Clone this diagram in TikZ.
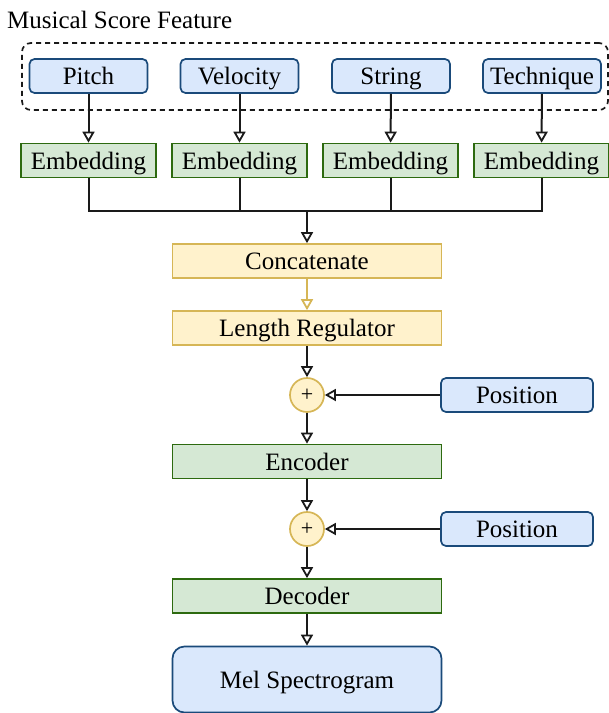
\documentclass[tikz,border=0pt]{standalone}
\usepackage{fontspec}
\setmainfont{Liberation Serif}
\usetikzlibrary{arrows.meta}
\definecolor{bfill}{HTML}{DAE8FC}
\definecolor{bline}{HTML}{1A4A7A}
\definecolor{gfill}{HTML}{D5E8D4}
\definecolor{gline}{HTML}{2D6A0F}
\definecolor{yfill}{HTML}{FFF2CC}
\definecolor{yline}{HTML}{D6B656}
\definecolor{ink}{HTML}{1A1A1A}
\tikzset{
  base/.style={inner sep=0pt, font=\fontsize{25}{30}\selectfont, text height=22pt, text depth=5pt, line width=1.7pt},
  bluebox/.style={base, draw=bline, fill=bfill, rounded corners=5pt, minimum width=118pt, minimum height=34pt},
  posbox/.style={bluebox, minimum width=152pt},
  embbox/.style={base, draw=gline, fill=gfill, minimum width=135pt, minimum height=34pt},
  widegreen/.style={base, draw=gline, fill=gfill, minimum width=269pt, minimum height=34pt},
  yelbox/.style={base, draw=yline, fill=yfill, minimum width=269pt, minimum height=34pt},
  plusnode/.style={circle, draw=yline, fill=yfill, line width=1.7pt, minimum size=34pt, inner sep=0pt, font=\fontsize{22}{22}\selectfont},
  conn/.style={draw=ink, line width=2pt, -{Triangle[open, length=11pt, width=12pt, line width=1.8pt]}},
  plain/.style={draw=ink, line width=2pt},
}
\begin{document}
\begin{tikzpicture}[x=1pt, y=-1pt]
\useasboundingbox (0,0) rectangle (609,713);
\node[anchor=base west, inner sep=0pt, font=\fontsize{25}{30}\selectfont] (title) at (7,28) {Musical Score Feature};
\node[draw=ink, dash pattern=on 5pt off 4pt, line width=1.7pt, rounded corners=9pt, minimum width=586pt, minimum height=67pt, inner sep=0pt] (group) at (315,76.5) {};

\node[bluebox] (pitch) at (88.5,76) {Pitch};
\node[bluebox] (vel) at (239.5,76) {Velocity};
\node[bluebox] (str) at (391,76) {String};
\node[bluebox] (tech) at (542,76) {Technique};

\node[embbox] (e1) at (88.5,160.5) {Embedding};
\node[embbox] (e2) at (239.5,160.5) {Embedding};
\node[embbox] (e3) at (390.5,160.5) {Embedding};
\node[embbox] (e4) at (541.5,160.5) {Embedding};

\node[yelbox] (concat) at (307,261) {Concatenate};
\node[yelbox] (lr) at (307,328) {Length Regulator};
\node[plusnode] (p1) at (307,395) {+};
\node[posbox] (pos1) at (517,395) {Position};
\node[widegreen] (enc) at (307,461.5) {Encoder};
\node[plusnode] (p2) at (307,529) {+};
\node[posbox] (pos2) at (517,529) {Position};
\node[widegreen] (dec) at (307,596) {Decoder};
\node[base, draw=bline, fill=bfill, rounded corners=12pt, minimum width=269pt, minimum height=66pt] (mel) at (307,679.5) {Mel Spectrogram};

\coordinate (bus) at (307,210.5);

\path[conn] (pitch) -- (e1);
\path[conn] (vel) -- (e2);
\path[conn] (str) -- (e3);
\path[conn] (tech) -- (e4);

\path[plain] (e1.south) |- (bus);
\path[plain] (e4.south) |- (bus);
\path[plain] (e2.south) -- (e2.south |- bus);
\path[plain] (e3.south) -- (e3.south |- bus);
\path[conn] (bus) -- (concat);

\path[conn, draw=yline] (concat) -- (lr);
\path[conn] (lr) -- (p1);
\path[conn] (pos1) -- (p1);
\path[conn] (p1) -- (enc);
\path[conn] (enc) -- (p2);
\path[conn] (pos2) -- (p2);
\path[conn] (p2) -- (dec);
\path[conn] (dec) -- (mel);
\end{tikzpicture}
\end{document}
